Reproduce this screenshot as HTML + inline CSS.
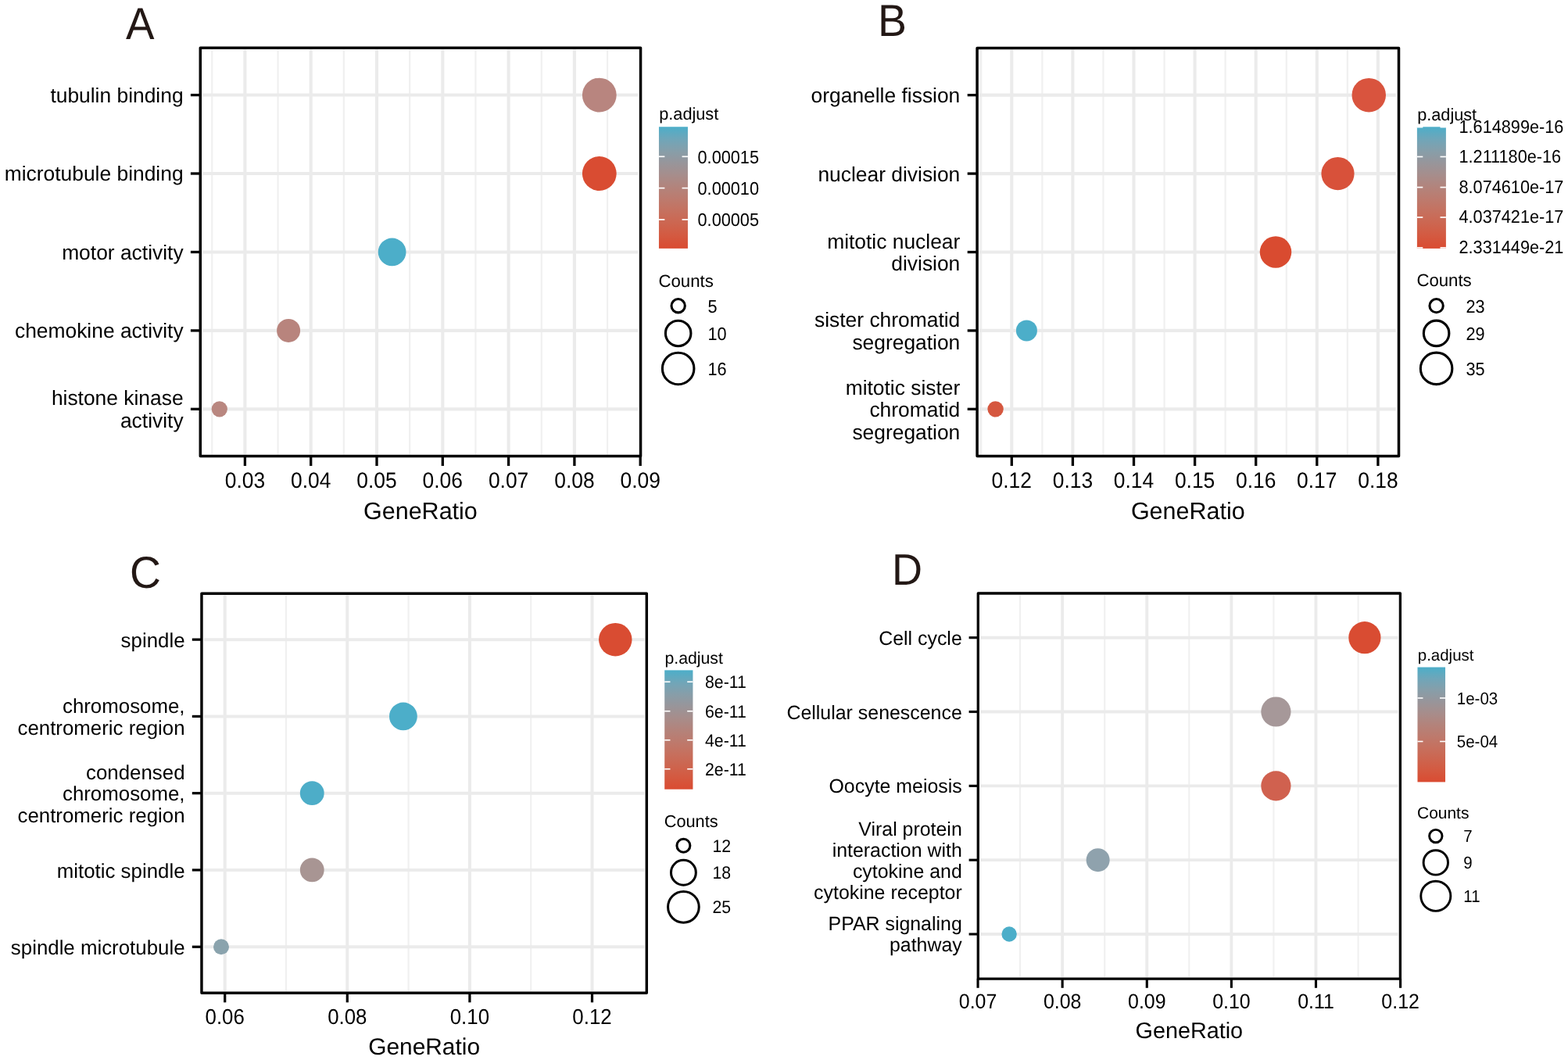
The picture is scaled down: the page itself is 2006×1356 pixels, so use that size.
<!DOCTYPE html>
<html lang="en"><head><meta charset="utf-8"><title>GO and KEGG enrichment dot plots</title>
<style>html,body{margin:0;padding:0;background:#fff}body{width:2006px;height:1356px;overflow:hidden}svg{display:block;font-family:'Liberation Sans', 'DejaVu Sans', sans-serif;text-rendering:geometricPrecision}</style>
</head><body>
<svg width="2006" height="1356" viewBox="0 0 2006 1356" role="img" aria-label="Dot plots of GO and KEGG enrichment, panels A to D">
<defs><linearGradient id="grad" x1="0" y1="0" x2="0" y2="1"><stop offset="0" stop-color="#4caec9"/><stop offset="0.1" stop-color="#6fa6b9"/><stop offset="0.2" stop-color="#879ea9"/><stop offset="0.3" stop-color="#98959a"/><stop offset="0.4" stop-color="#a78d8b"/><stop offset="0.5" stop-color="#b3837b"/><stop offset="0.6" stop-color="#bd7a6d"/><stop offset="0.7" stop-color="#c6705e"/><stop offset="0.8" stop-color="#cd654f"/><stop offset="0.9" stop-color="#d45940"/><stop offset="1" stop-color="#da4b31"/></linearGradient></defs>
<rect width="2006" height="1356" fill="#fff"/>
<g id="panel-A">
<text transform="translate(161.1 50) scale(0.955 1)" font-size="57.3" fill="#231815">A</text>
<g>
<line x1="271.25" y1="63.4" x2="271.25" y2="581.5" stroke="#f0f0f0" stroke-width="2.2"/>
<line x1="355.55" y1="63.4" x2="355.55" y2="581.5" stroke="#f0f0f0" stroke-width="2.2"/>
<line x1="439.85" y1="63.4" x2="439.85" y2="581.5" stroke="#f0f0f0" stroke-width="2.2"/>
<line x1="524.15" y1="63.4" x2="524.15" y2="581.5" stroke="#f0f0f0" stroke-width="2.2"/>
<line x1="608.45" y1="63.4" x2="608.45" y2="581.5" stroke="#f0f0f0" stroke-width="2.2"/>
<line x1="692.75" y1="63.4" x2="692.75" y2="581.5" stroke="#f0f0f0" stroke-width="2.2"/>
<line x1="777.05" y1="63.4" x2="777.05" y2="581.5" stroke="#f0f0f0" stroke-width="2.2"/>
<line x1="259.7" y1="121.57" x2="816.15" y2="121.57" stroke="#ebebeb" stroke-width="4.1"/>
<line x1="259.7" y1="222.01" x2="816.15" y2="222.01" stroke="#ebebeb" stroke-width="4.1"/>
<line x1="259.7" y1="322.45" x2="816.15" y2="322.45" stroke="#ebebeb" stroke-width="4.1"/>
<line x1="259.7" y1="422.89" x2="816.15" y2="422.89" stroke="#ebebeb" stroke-width="4.1"/>
<line x1="259.7" y1="523.33" x2="816.15" y2="523.33" stroke="#ebebeb" stroke-width="4.1"/>
<line x1="313.4" y1="63.4" x2="313.4" y2="581.5" stroke="#ebebeb" stroke-width="4.1"/>
<line x1="397.7" y1="63.4" x2="397.7" y2="581.5" stroke="#ebebeb" stroke-width="4.1"/>
<line x1="482" y1="63.4" x2="482" y2="581.5" stroke="#ebebeb" stroke-width="4.1"/>
<line x1="566.3" y1="63.4" x2="566.3" y2="581.5" stroke="#ebebeb" stroke-width="4.1"/>
<line x1="650.6" y1="63.4" x2="650.6" y2="581.5" stroke="#ebebeb" stroke-width="4.1"/>
<line x1="734.9" y1="63.4" x2="734.9" y2="581.5" stroke="#ebebeb" stroke-width="4.1"/>
</g>
<circle cx="766.8" cy="121.57" r="21.9" fill="#b8857f"/>
<circle cx="766.8" cy="222.01" r="21.9" fill="#d94c32"/>
<circle cx="501.6" cy="322.45" r="17.9" fill="#4caec9"/>
<circle cx="369.1" cy="422.89" r="15" fill="#b8847d"/>
<circle cx="280.8" cy="523.33" r="10.1" fill="#b98780"/>
<rect x="256.3" y="61.3" width="563.25" height="522.3" fill="none" stroke="#000000" stroke-width="3.5" stroke-linejoin="round"/>
<line x1="243.9" y1="121.57" x2="256.3" y2="121.57" stroke="#000000" stroke-width="3.3"/>
<line x1="243.9" y1="222.01" x2="256.3" y2="222.01" stroke="#000000" stroke-width="3.3"/>
<line x1="243.9" y1="322.45" x2="256.3" y2="322.45" stroke="#000000" stroke-width="3.3"/>
<line x1="243.9" y1="422.89" x2="256.3" y2="422.89" stroke="#000000" stroke-width="3.3"/>
<line x1="243.9" y1="523.33" x2="256.3" y2="523.33" stroke="#000000" stroke-width="3.3"/>
<line x1="313.4" y1="583.6" x2="313.4" y2="596" stroke="#000000" stroke-width="3.3"/>
<line x1="397.7" y1="583.6" x2="397.7" y2="596" stroke="#000000" stroke-width="3.3"/>
<line x1="482" y1="583.6" x2="482" y2="596" stroke="#000000" stroke-width="3.3"/>
<line x1="566.3" y1="583.6" x2="566.3" y2="596" stroke="#000000" stroke-width="3.3"/>
<line x1="650.6" y1="583.6" x2="650.6" y2="596" stroke="#000000" stroke-width="3.3"/>
<line x1="734.9" y1="583.6" x2="734.9" y2="596" stroke="#000000" stroke-width="3.3"/>
<line x1="819.2" y1="583.6" x2="819.2" y2="596" stroke="#000000" stroke-width="3.3"/>
<g font-size="26.4" text-anchor="end" fill="#000000">
<text x="234.6" y="130.97">tubulin binding</text>
<text x="234.6" y="231.41">microtubule binding</text>
<text x="234.6" y="331.85">motor activity</text>
<text x="234.6" y="432.29">chemokine activity</text>
<text x="234.6" y="518.48">histone kinase</text>
<text x="234.6" y="546.98">activity</text>
</g>
<g font-size="26.4" text-anchor="middle" fill="#000000">
<text transform="translate(313.4 624.1) scale(1 1.07)">0.03</text>
<text transform="translate(397.7 624.1) scale(1 1.07)">0.04</text>
<text transform="translate(482 624.1) scale(1 1.07)">0.05</text>
<text transform="translate(566.3 624.1) scale(1 1.07)">0.06</text>
<text transform="translate(650.6 624.1) scale(1 1.07)">0.07</text>
<text transform="translate(734.9 624.1) scale(1 1.07)">0.08</text>
<text transform="translate(819.2 624.1) scale(1 1.07)">0.09</text>
</g>
<text x="537.92" y="664.1" font-size="30.5" text-anchor="middle" fill="#000000">GeneRatio</text>
<g font-size="21.7" fill="#000000">
<text x="843.25" y="153.45">p.adjust</text>
<rect x="842.95" y="162.25" width="37" height="155.6" fill="url(#grad)"/>
<line x1="842.95" y1="200.3" x2="850.35" y2="200.3" stroke="#fff" stroke-width="1.7"/>
<line x1="872.55" y1="200.3" x2="879.95" y2="200.3" stroke="#fff" stroke-width="1.7"/>
<text transform="translate(892.55 208.6) scale(1 1.07)">0.00015</text>
<line x1="842.95" y1="240.6" x2="850.35" y2="240.6" stroke="#fff" stroke-width="1.7"/>
<line x1="872.55" y1="240.6" x2="879.95" y2="240.6" stroke="#fff" stroke-width="1.7"/>
<text transform="translate(892.55 248.9) scale(1 1.07)">0.00010</text>
<line x1="842.95" y1="280.9" x2="850.35" y2="280.9" stroke="#fff" stroke-width="1.7"/>
<line x1="872.55" y1="280.9" x2="879.95" y2="280.9" stroke="#fff" stroke-width="1.7"/>
<text transform="translate(892.55 289.2) scale(1 1.07)">0.00005</text>
<text x="842.45" y="366.85" font-size="22.2">Counts</text>
<circle cx="867.65" cy="391.2" r="8.65" fill="none" stroke="#000000" stroke-width="3.1"/>
<text transform="translate(905.45 400) scale(1 1.07)">5</text>
<circle cx="867.65" cy="426.45" r="16.25" fill="none" stroke="#000000" stroke-width="3.1"/>
<text transform="translate(905.45 435.25) scale(1 1.07)">10</text>
<circle cx="867.65" cy="471.45" r="20.25" fill="none" stroke="#000000" stroke-width="3.1"/>
<text transform="translate(905.45 480.25) scale(1 1.07)">16</text>
</g>
</g>
<g id="panel-B">
<text transform="translate(1122.9 46) scale(0.967 1)" font-size="57.3" fill="#231815">B</text>
<g>
<line x1="1255.25" y1="63.5" x2="1255.25" y2="581.5" stroke="#f0f0f0" stroke-width="2.2"/>
<line x1="1333.35" y1="63.5" x2="1333.35" y2="581.5" stroke="#f0f0f0" stroke-width="2.2"/>
<line x1="1411.45" y1="63.5" x2="1411.45" y2="581.5" stroke="#f0f0f0" stroke-width="2.2"/>
<line x1="1489.55" y1="63.5" x2="1489.55" y2="581.5" stroke="#f0f0f0" stroke-width="2.2"/>
<line x1="1567.65" y1="63.5" x2="1567.65" y2="581.5" stroke="#f0f0f0" stroke-width="2.2"/>
<line x1="1645.75" y1="63.5" x2="1645.75" y2="581.5" stroke="#f0f0f0" stroke-width="2.2"/>
<line x1="1723.85" y1="63.5" x2="1723.85" y2="581.5" stroke="#f0f0f0" stroke-width="2.2"/>
<line x1="1252.3" y1="121.65" x2="1785.7" y2="121.65" stroke="#ebebeb" stroke-width="4.1"/>
<line x1="1252.3" y1="222.08" x2="1785.7" y2="222.08" stroke="#ebebeb" stroke-width="4.1"/>
<line x1="1252.3" y1="322.5" x2="1785.7" y2="322.5" stroke="#ebebeb" stroke-width="4.1"/>
<line x1="1252.3" y1="422.92" x2="1785.7" y2="422.92" stroke="#ebebeb" stroke-width="4.1"/>
<line x1="1252.3" y1="523.35" x2="1785.7" y2="523.35" stroke="#ebebeb" stroke-width="4.1"/>
<line x1="1294.3" y1="63.5" x2="1294.3" y2="581.5" stroke="#ebebeb" stroke-width="4.1"/>
<line x1="1372.4" y1="63.5" x2="1372.4" y2="581.5" stroke="#ebebeb" stroke-width="4.1"/>
<line x1="1450.5" y1="63.5" x2="1450.5" y2="581.5" stroke="#ebebeb" stroke-width="4.1"/>
<line x1="1528.6" y1="63.5" x2="1528.6" y2="581.5" stroke="#ebebeb" stroke-width="4.1"/>
<line x1="1606.7" y1="63.5" x2="1606.7" y2="581.5" stroke="#ebebeb" stroke-width="4.1"/>
<line x1="1684.8" y1="63.5" x2="1684.8" y2="581.5" stroke="#ebebeb" stroke-width="4.1"/>
<line x1="1762.9" y1="63.5" x2="1762.9" y2="581.5" stroke="#ebebeb" stroke-width="4.1"/>
</g>
<circle cx="1751.25" cy="121.65" r="21.75" fill="#d9543e"/>
<circle cx="1711.5" cy="222.08" r="21.1" fill="#d8513a"/>
<circle cx="1632" cy="322.5" r="20.25" fill="#d94b30"/>
<circle cx="1313.4" cy="422.92" r="13.5" fill="#4caec9"/>
<circle cx="1273.6" cy="523.35" r="10.2" fill="#d5573f"/>
<rect x="1250.1" y="61.4" width="539.4" height="522.2" fill="none" stroke="#000000" stroke-width="3.5" stroke-linejoin="round"/>
<line x1="1237.7" y1="121.65" x2="1250.1" y2="121.65" stroke="#000000" stroke-width="3.3"/>
<line x1="1237.7" y1="222.08" x2="1250.1" y2="222.08" stroke="#000000" stroke-width="3.3"/>
<line x1="1237.7" y1="322.5" x2="1250.1" y2="322.5" stroke="#000000" stroke-width="3.3"/>
<line x1="1237.7" y1="422.92" x2="1250.1" y2="422.92" stroke="#000000" stroke-width="3.3"/>
<line x1="1237.7" y1="523.35" x2="1250.1" y2="523.35" stroke="#000000" stroke-width="3.3"/>
<line x1="1294.3" y1="583.6" x2="1294.3" y2="596" stroke="#000000" stroke-width="3.3"/>
<line x1="1372.4" y1="583.6" x2="1372.4" y2="596" stroke="#000000" stroke-width="3.3"/>
<line x1="1450.5" y1="583.6" x2="1450.5" y2="596" stroke="#000000" stroke-width="3.3"/>
<line x1="1528.6" y1="583.6" x2="1528.6" y2="596" stroke="#000000" stroke-width="3.3"/>
<line x1="1606.7" y1="583.6" x2="1606.7" y2="596" stroke="#000000" stroke-width="3.3"/>
<line x1="1684.8" y1="583.6" x2="1684.8" y2="596" stroke="#000000" stroke-width="3.3"/>
<line x1="1762.9" y1="583.6" x2="1762.9" y2="596" stroke="#000000" stroke-width="3.3"/>
<g font-size="26.4" text-anchor="end" fill="#000000">
<text x="1228.3" y="131.35">organelle fission</text>
<text x="1228.3" y="231.78">nuclear division</text>
<text x="1228.3" y="317.95">mitotic nuclear</text>
<text x="1228.3" y="346.45">division</text>
<text x="1228.3" y="418.37">sister chromatid</text>
<text x="1228.3" y="446.87">segregation</text>
<text x="1228.3" y="504.55">mitotic sister</text>
<text x="1228.3" y="533.05">chromatid</text>
<text x="1228.3" y="561.55">segregation</text>
</g>
<g font-size="26.4" text-anchor="middle" fill="#000000">
<text transform="translate(1294.3 624.1) scale(1 1.07)">0.12</text>
<text transform="translate(1372.4 624.1) scale(1 1.07)">0.13</text>
<text transform="translate(1450.5 624.1) scale(1 1.07)">0.14</text>
<text transform="translate(1528.6 624.1) scale(1 1.07)">0.15</text>
<text transform="translate(1606.7 624.1) scale(1 1.07)">0.16</text>
<text transform="translate(1684.8 624.1) scale(1 1.07)">0.17</text>
<text transform="translate(1762.9 624.1) scale(1 1.07)">0.18</text>
</g>
<text x="1519.8" y="664.1" font-size="30.5" text-anchor="middle" fill="#000000">GeneRatio</text>
<g font-size="21.7" fill="#000000">
<text x="1813.2" y="153.5">p.adjust</text>
<rect x="1812.9" y="162.3" width="37" height="155.6" fill="url(#grad)"/>
<line x1="1812.9" y1="162.6" x2="1820.3" y2="162.6" stroke="#fff" stroke-width="1.7"/>
<line x1="1842.5" y1="162.6" x2="1849.9" y2="162.6" stroke="#fff" stroke-width="1.7"/>
<text transform="translate(1866.5 169.7) scale(1 1.07)">1.614899e-16</text>
<line x1="1812.9" y1="200.5" x2="1820.3" y2="200.5" stroke="#fff" stroke-width="1.7"/>
<line x1="1842.5" y1="200.5" x2="1849.9" y2="200.5" stroke="#fff" stroke-width="1.7"/>
<text transform="translate(1866.5 207.6) scale(1 1.07)">1.211180e-16</text>
<line x1="1812.9" y1="239.6" x2="1820.3" y2="239.6" stroke="#fff" stroke-width="1.7"/>
<line x1="1842.5" y1="239.6" x2="1849.9" y2="239.6" stroke="#fff" stroke-width="1.7"/>
<text transform="translate(1866.5 246.7) scale(1 1.07)">8.074610e-17</text>
<line x1="1812.9" y1="278" x2="1820.3" y2="278" stroke="#fff" stroke-width="1.7"/>
<line x1="1842.5" y1="278" x2="1849.9" y2="278" stroke="#fff" stroke-width="1.7"/>
<text transform="translate(1866.5 285.1) scale(1 1.07)">4.037421e-17</text>
<line x1="1812.9" y1="316.9" x2="1820.3" y2="316.9" stroke="#fff" stroke-width="1.7"/>
<line x1="1842.5" y1="316.9" x2="1849.9" y2="316.9" stroke="#fff" stroke-width="1.7"/>
<text transform="translate(1866.5 324) scale(1 1.07)">2.331449e-21</text>
<text x="1812.4" y="366.2" font-size="22.2">Counts</text>
<circle cx="1837.6" cy="391.15" r="8.65" fill="none" stroke="#000000" stroke-width="3.1"/>
<text transform="translate(1875.5 399.65) scale(1 1.07)">23</text>
<circle cx="1837.6" cy="426.4" r="16.25" fill="none" stroke="#000000" stroke-width="3.1"/>
<text transform="translate(1875.5 434.9) scale(1 1.07)">29</text>
<circle cx="1837.6" cy="471.4" r="20.25" fill="none" stroke="#000000" stroke-width="3.1"/>
<text transform="translate(1875.5 479.9) scale(1 1.07)">35</text>
</g>
</g>
<g id="panel-C">
<text transform="translate(166 752.4) scale(0.965 1)" font-size="57.3" fill="#231815">C</text>
<g>
<line x1="366" y1="761.26" x2="366" y2="1268.14" stroke="#f0f0f0" stroke-width="2.15"/>
<line x1="522.6" y1="761.26" x2="522.6" y2="1268.14" stroke="#f0f0f0" stroke-width="2.15"/>
<line x1="679.2" y1="761.26" x2="679.2" y2="1268.14" stroke="#f0f0f0" stroke-width="2.15"/>
<line x1="260.89" y1="818.16" x2="824.36" y2="818.16" stroke="#ebebeb" stroke-width="4.01"/>
<line x1="260.89" y1="916.43" x2="824.36" y2="916.43" stroke="#ebebeb" stroke-width="4.01"/>
<line x1="260.89" y1="1014.7" x2="824.36" y2="1014.7" stroke="#ebebeb" stroke-width="4.01"/>
<line x1="260.89" y1="1112.97" x2="824.36" y2="1112.97" stroke="#ebebeb" stroke-width="4.01"/>
<line x1="260.89" y1="1211.24" x2="824.36" y2="1211.24" stroke="#ebebeb" stroke-width="4.01"/>
<line x1="287.7" y1="761.26" x2="287.7" y2="1268.14" stroke="#ebebeb" stroke-width="4.01"/>
<line x1="444.3" y1="761.26" x2="444.3" y2="1268.14" stroke="#ebebeb" stroke-width="4.01"/>
<line x1="600.9" y1="761.26" x2="600.9" y2="1268.14" stroke="#ebebeb" stroke-width="4.01"/>
<line x1="757.5" y1="761.26" x2="757.5" y2="1268.14" stroke="#ebebeb" stroke-width="4.01"/>
</g>
<circle cx="787.25" cy="818.16" r="21.25" fill="#d94c32"/>
<circle cx="515.9" cy="916.43" r="17.9" fill="#4caec9"/>
<circle cx="399.25" cy="1014.7" r="15.4" fill="#4dadc8"/>
<circle cx="399.25" cy="1112.97" r="15.4" fill="#a89593"/>
<circle cx="283" cy="1211.24" r="10" fill="#8aa3ad"/>
<rect x="257.95" y="759.2" width="569.35" height="511" fill="none" stroke="#000000" stroke-width="3.43" stroke-linejoin="round"/>
<line x1="245.81" y1="818.16" x2="257.95" y2="818.16" stroke="#000000" stroke-width="3.23"/>
<line x1="245.81" y1="916.43" x2="257.95" y2="916.43" stroke="#000000" stroke-width="3.23"/>
<line x1="245.81" y1="1014.7" x2="257.95" y2="1014.7" stroke="#000000" stroke-width="3.23"/>
<line x1="245.81" y1="1112.97" x2="257.95" y2="1112.97" stroke="#000000" stroke-width="3.23"/>
<line x1="245.81" y1="1211.24" x2="257.95" y2="1211.24" stroke="#000000" stroke-width="3.23"/>
<line x1="287.7" y1="1270.2" x2="287.7" y2="1282.34" stroke="#000000" stroke-width="3.23"/>
<line x1="444.3" y1="1270.2" x2="444.3" y2="1282.34" stroke="#000000" stroke-width="3.23"/>
<line x1="600.9" y1="1270.2" x2="600.9" y2="1282.34" stroke="#000000" stroke-width="3.23"/>
<line x1="757.5" y1="1270.2" x2="757.5" y2="1282.34" stroke="#000000" stroke-width="3.23"/>
<g font-size="25.85" text-anchor="end" fill="#000000">
<text x="236.52" y="827.86">spindle</text>
<text x="236.52" y="912.38">chromosome,</text>
<text x="236.52" y="939.89">centromeric region</text>
<text x="236.52" y="996.89">condensed</text>
<text x="236.52" y="1024.4">chromosome,</text>
<text x="236.52" y="1051.91">centromeric region</text>
<text x="236.52" y="1122.67">mitotic spindle</text>
<text x="236.52" y="1220.94">spindle microtubule</text>
</g>
<g font-size="25.85" text-anchor="middle" fill="#000000">
<text transform="translate(287.7 1310.14) scale(1 1.07)">0.06</text>
<text transform="translate(444.3 1310.14) scale(1 1.07)">0.08</text>
<text transform="translate(600.9 1310.14) scale(1 1.07)">0.10</text>
<text transform="translate(757.5 1310.14) scale(1 1.07)">0.12</text>
</g>
<text x="542.62" y="1348.5" font-size="29.86" text-anchor="middle" fill="#000000">GeneRatio</text>
<g font-size="21.24" fill="#000000">
<text x="850.5" y="848.75">p.adjust</text>
<rect x="850.21" y="857.36" width="36.22" height="152.33" fill="url(#grad)"/>
<line x1="850.21" y1="872.25" x2="857.45" y2="872.25" stroke="#fff" stroke-width="1.66"/>
<line x1="879.19" y1="872.25" x2="886.43" y2="872.25" stroke="#fff" stroke-width="1.66"/>
<text transform="translate(902.02 880.38) scale(1 1.07)">8e-11</text>
<line x1="850.21" y1="909.75" x2="857.45" y2="909.75" stroke="#fff" stroke-width="1.66"/>
<line x1="879.19" y1="909.75" x2="886.43" y2="909.75" stroke="#fff" stroke-width="1.66"/>
<text transform="translate(902.02 917.88) scale(1 1.07)">6e-11</text>
<line x1="850.21" y1="946.75" x2="857.45" y2="946.75" stroke="#fff" stroke-width="1.66"/>
<line x1="879.19" y1="946.75" x2="886.43" y2="946.75" stroke="#fff" stroke-width="1.66"/>
<text transform="translate(902.02 954.88) scale(1 1.07)">4e-11</text>
<line x1="850.21" y1="983.75" x2="857.45" y2="983.75" stroke="#fff" stroke-width="1.66"/>
<line x1="879.19" y1="983.75" x2="886.43" y2="983.75" stroke="#fff" stroke-width="1.66"/>
<text transform="translate(902.02 991.88) scale(1 1.07)">2e-11</text>
<text x="849.72" y="1058.29" font-size="21.73">Counts</text>
<circle cx="874.39" cy="1081.75" r="8.47" fill="none" stroke="#000000" stroke-width="3.03"/>
<text transform="translate(911.41 1089.62) scale(1 1.07)">12</text>
<circle cx="874.39" cy="1116.26" r="15.92" fill="none" stroke="#000000" stroke-width="3.03"/>
<text transform="translate(911.41 1124.13) scale(1 1.07)">18</text>
<circle cx="874.39" cy="1160.31" r="19.83" fill="none" stroke="#000000" stroke-width="3.03"/>
<text transform="translate(911.41 1168.19) scale(1 1.07)">25</text>
</g>
</g>
<g id="panel-D">
<text transform="translate(1141 747.9) scale(0.96 1)" font-size="56.3" fill="#231815">D</text>
<g>
<line x1="1305.1" y1="760.98" x2="1305.1" y2="1250.12" stroke="#f0f0f0" stroke-width="2.08"/>
<line x1="1413.21" y1="760.98" x2="1413.21" y2="1250.12" stroke="#f0f0f0" stroke-width="2.08"/>
<line x1="1521.32" y1="760.98" x2="1521.32" y2="1250.12" stroke="#f0f0f0" stroke-width="2.08"/>
<line x1="1629.43" y1="760.98" x2="1629.43" y2="1250.12" stroke="#f0f0f0" stroke-width="2.08"/>
<line x1="1737.55" y1="760.98" x2="1737.55" y2="1250.12" stroke="#f0f0f0" stroke-width="2.08"/>
<line x1="1254.13" y1="815.7" x2="1788.57" y2="815.7" stroke="#ebebeb" stroke-width="3.87"/>
<line x1="1254.13" y1="910.52" x2="1788.57" y2="910.52" stroke="#ebebeb" stroke-width="3.87"/>
<line x1="1254.13" y1="1005.35" x2="1788.57" y2="1005.35" stroke="#ebebeb" stroke-width="3.87"/>
<line x1="1254.13" y1="1100.18" x2="1788.57" y2="1100.18" stroke="#ebebeb" stroke-width="3.87"/>
<line x1="1254.13" y1="1195" x2="1788.57" y2="1195" stroke="#ebebeb" stroke-width="3.87"/>
<line x1="1359.16" y1="760.98" x2="1359.16" y2="1250.12" stroke="#ebebeb" stroke-width="3.87"/>
<line x1="1467.27" y1="760.98" x2="1467.27" y2="1250.12" stroke="#ebebeb" stroke-width="3.87"/>
<line x1="1575.38" y1="760.98" x2="1575.38" y2="1250.12" stroke="#ebebeb" stroke-width="3.87"/>
<line x1="1683.49" y1="760.98" x2="1683.49" y2="1250.12" stroke="#ebebeb" stroke-width="3.87"/>
</g>
<circle cx="1745.9" cy="815.7" r="20.6" fill="#d94c32"/>
<circle cx="1632.4" cy="910.52" r="19.1" fill="#a69899"/>
<circle cx="1632.4" cy="1005.35" r="19.1" fill="#d0614f"/>
<circle cx="1404.65" cy="1100.18" r="15" fill="#8fa2ad"/>
<circle cx="1291.15" cy="1195" r="9.7" fill="#4caec9"/>
<rect x="1251.3" y="759" width="540.1" height="493.1" fill="none" stroke="#000000" stroke-width="3.3" stroke-linejoin="round"/>
<line x1="1239.59" y1="815.7" x2="1251.3" y2="815.7" stroke="#000000" stroke-width="3.12"/>
<line x1="1239.59" y1="910.52" x2="1251.3" y2="910.52" stroke="#000000" stroke-width="3.12"/>
<line x1="1239.59" y1="1005.35" x2="1251.3" y2="1005.35" stroke="#000000" stroke-width="3.12"/>
<line x1="1239.59" y1="1100.18" x2="1251.3" y2="1100.18" stroke="#000000" stroke-width="3.12"/>
<line x1="1239.59" y1="1195" x2="1251.3" y2="1195" stroke="#000000" stroke-width="3.12"/>
<line x1="1251.05" y1="1252.1" x2="1251.05" y2="1263.81" stroke="#000000" stroke-width="3.12"/>
<line x1="1359.16" y1="1252.1" x2="1359.16" y2="1263.81" stroke="#000000" stroke-width="3.12"/>
<line x1="1467.27" y1="1252.1" x2="1467.27" y2="1263.81" stroke="#000000" stroke-width="3.12"/>
<line x1="1575.38" y1="1252.1" x2="1575.38" y2="1263.81" stroke="#000000" stroke-width="3.12"/>
<line x1="1683.49" y1="1252.1" x2="1683.49" y2="1263.81" stroke="#000000" stroke-width="3.12"/>
<line x1="1791.6" y1="1252.1" x2="1791.6" y2="1263.81" stroke="#000000" stroke-width="3.12"/>
<g font-size="24.92" text-anchor="end" fill="#000000">
<text x="1230.75" y="824.67">Cell cycle</text>
<text x="1230.75" y="919.5">Cellular senescence</text>
<text x="1230.75" y="1014.32">Oocyte meiosis</text>
<text x="1230.75" y="1068.65">Viral protein</text>
<text x="1230.75" y="1095.65">interaction with</text>
<text x="1230.75" y="1122.65">cytokine and</text>
<text x="1230.75" y="1149.65">cytokine receptor</text>
<text x="1230.75" y="1190.48">PPAR signaling</text>
<text x="1230.75" y="1217.48">pathway</text>
</g>
<g font-size="24.92" text-anchor="middle" fill="#000000">
<text transform="translate(1251.05 1290.1) scale(1 1.07)">0.07</text>
<text transform="translate(1359.16 1290.1) scale(1 1.07)">0.08</text>
<text transform="translate(1467.27 1290.1) scale(1 1.07)">0.09</text>
<text transform="translate(1575.38 1290.1) scale(1 1.07)">0.10</text>
<text transform="translate(1683.49 1290.1) scale(1 1.07)">0.11</text>
<text transform="translate(1791.6 1290.1) scale(1 1.07)">0.12</text>
</g>
<text x="1521.35" y="1327.76" font-size="28.79" text-anchor="middle" fill="#000000">GeneRatio</text>
<g font-size="20.48" fill="#000000">
<text x="1813.77" y="845.21">p.adjust</text>
<rect x="1813.49" y="853.52" width="35.53" height="146.89" fill="url(#grad)"/>
<line x1="1813.49" y1="893" x2="1820.48" y2="893" stroke="#fff" stroke-width="1.6"/>
<line x1="1842.03" y1="893" x2="1849.02" y2="893" stroke="#fff" stroke-width="1.6"/>
<text transform="translate(1863.81 900.84) scale(1 1.07)">1e-03</text>
<line x1="1813.49" y1="948.5" x2="1820.48" y2="948.5" stroke="#fff" stroke-width="1.6"/>
<line x1="1842.03" y1="948.5" x2="1849.02" y2="948.5" stroke="#fff" stroke-width="1.6"/>
<text transform="translate(1863.81 956.34) scale(1 1.07)">5e-04</text>
<text x="1813.02" y="1046.59" font-size="20.96">Counts</text>
<circle cx="1836.81" cy="1069.55" r="8.19" fill="none" stroke="#000000" stroke-width="2.93"/>
<text transform="translate(1872.32 1077.4) scale(1 1.07)">7</text>
<circle cx="1836.81" cy="1103.4" r="15.69" fill="none" stroke="#000000" stroke-width="2.93"/>
<text transform="translate(1872.32 1111.25) scale(1 1.07)">9</text>
<circle cx="1836.81" cy="1146.3" r="19.04" fill="none" stroke="#000000" stroke-width="2.93"/>
<text transform="translate(1872.32 1154.15) scale(1 1.07)">11</text>
</g>
</g>
</svg></body></html>
